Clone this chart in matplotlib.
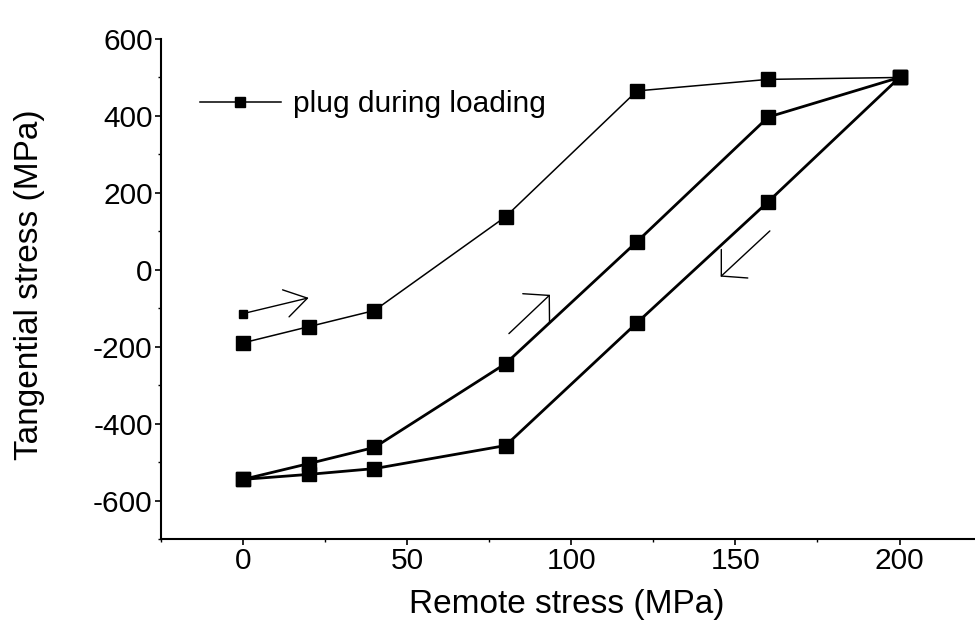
import matplotlib
matplotlib.use("Agg")
import matplotlib.pyplot as plt
from matplotlib.ticker import MultipleLocator

# remote stress steps (MPa)
remote = [0, 20, 40, 80, 120, 160, 200]
# plug, tangential stress during loading (MPa)
plug_loading = [-190, -148, -106, 138, 465, 495, 500]
# second loading branch
hole_loading = [-545, -504, -462, -244, 73, 397, 500]
# unloading branch, from 200 MPa back to 0
remote_unload = [200, 160, 120, 80, 40, 20, 0]
hole_unloading = [500, 177, -138, -457, -517, -532, -545]
# start point of the plug curve
start_x, start_y = 0, -114

plt.rcParams['font.family'] = ['Liberation Sans', 'DejaVu Sans']
plt.rcParams['axes.unicode_minus'] = False

fig = plt.figure(figsize=(9.75, 6.29), dpi=100)
ax = fig.add_axes([161 / 975, 1 - 539 / 629, 814 / 975, 500 / 629])

ax.plot(remote, plug_loading, color='black', lw=1.1, marker='s', ms=9.5,
        label='plug during loading')
ax.plot(remote, hole_loading, color='black', lw=2.0, marker='s', ms=9.5)
ax.plot(remote_unload, hole_unloading, color='black', lw=2.0, marker='s', ms=9.5)
ax.plot([start_x], [start_y], color='black', marker='s', ms=5.5)

# direction arrows
arrow = dict(arrowstyle='->,head_length=0.65,head_width=0.7', color='black',
             lw=1.0, mutation_scale=20, shrinkA=0, shrinkB=0)
ax.annotate('', xy=(20, -73), xytext=(start_x, start_y),
            arrowprops=dict(arrow, arrowstyle='->,head_length=0.8,head_width=0.5'))
ax.annotate('', xy=(93.5, -65), xytext=(81, -166), arrowprops=arrow)
ax.annotate('', xy=(145.5, -18), xytext=(160.5, 101), arrowprops=arrow)

ax.set_xlim(-25, 223)
ax.set_ylim(-700, 600)
ax.xaxis.set_major_locator(MultipleLocator(50))
ax.xaxis.set_minor_locator(MultipleLocator(25))
ax.yaxis.set_major_locator(MultipleLocator(200))
ax.yaxis.set_minor_locator(MultipleLocator(100))

for side in ('top', 'right'):
    ax.spines[side].set_visible(False)
for side in ('left', 'bottom'):
    ax.spines[side].set_linewidth(1.5)

ax.tick_params(which='major', direction='out', length=4, width=1.2,
               labelsize=21.5, pad=2)
ax.tick_params(which='minor', direction='out', length=2.5, width=1.0)

ax.set_xlabel('Remote stress (MPa)', fontsize=24, va='center', ha='center')
ax.set_ylabel('Tangential stress (MPa)', fontsize=24, va='center', ha='center')
ax.xaxis.set_label_coords(0.499, -0.132)
ax.yaxis.set_label_coords(-0.161, 0.508)

leg = ax.legend(loc='center left', bbox_to_anchor=(39 / 814, 0.87),
                frameon=False, borderaxespad=0, borderpad=0,
                handlelength=2.7, handletextpad=0.4, markerscale=0.75,
                prop={'size': 21.5})

fig.savefig('out.png', dpi=100)
